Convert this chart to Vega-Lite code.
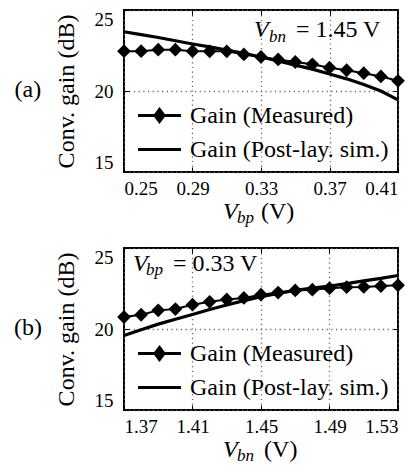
{
  "$schema": "https://vega.github.io/schema/vega-lite/v6.json",
  "background": "white",
  "padding": {"left": 12, "top": 8, "right": 0, "bottom": 0},
  "config": {
    "font": "Liberation Serif",
    "view": {"stroke": "black", "strokeWidth": 2},
    "axis": {
      "labelFont": "Liberation Serif",
      "labelFontSize": 19,
      "labelColor": "black",
      "labelFlush": true,
      "titleFont": "Liberation Serif",
      "titleFontSize": 24,
      "titleFontWeight": "normal",
      "titleColor": "black",
      "domain": false,
      "tickColor": "black",
      "tickWidth": 1,
      "tickSize": -5,
      "gridColor": "#666666",
      "gridDash": [1.2, 3.5],
      "gridWidth": 1.3
    },
    "axisX": {"labelPadding": 12},
    "axisY": {"labelPadding": 16, "titlePadding": 16},
    "legend": {
      "orient": "none",
      "legendX": 23,
      "legendY": 93,
      "padding": 0,
      "title": null,
      "labelFont": "Liberation Serif",
      "labelFontSize": 24,
      "labelColor": "black",
      "labelLimit": 400,
      "symbolSize": 460,
      "symbolOpacity": 1,
      "symbolStrokeWidth": 3,
      "labelOffset": 18,
      "rowPadding": 9
    },
    "text": {"font": "Liberation Serif", "color": "black"}
  },
  "datasets": {
    "vbpSweep": [
      {"vbp": 0.25, "series": "Gain (Measured)", "gain": 22.46},
      {"vbp": 0.26, "series": "Gain (Measured)", "gain": 22.46},
      {"vbp": 0.27, "series": "Gain (Measured)", "gain": 22.55},
      {"vbp": 0.28, "series": "Gain (Measured)", "gain": 22.55},
      {"vbp": 0.29, "series": "Gain (Measured)", "gain": 22.46},
      {"vbp": 0.30, "series": "Gain (Measured)", "gain": 22.45},
      {"vbp": 0.31, "series": "Gain (Measured)", "gain": 22.45},
      {"vbp": 0.32, "series": "Gain (Measured)", "gain": 22.26},
      {"vbp": 0.33, "series": "Gain (Measured)", "gain": 22.1},
      {"vbp": 0.34, "series": "Gain (Measured)", "gain": 21.95},
      {"vbp": 0.35, "series": "Gain (Measured)", "gain": 21.79},
      {"vbp": 0.36, "series": "Gain (Measured)", "gain": 21.65},
      {"vbp": 0.37, "series": "Gain (Measured)", "gain": 21.44},
      {"vbp": 0.38, "series": "Gain (Measured)", "gain": 21.28},
      {"vbp": 0.39, "series": "Gain (Measured)", "gain": 21.1},
      {"vbp": 0.40, "series": "Gain (Measured)", "gain": 20.9},
      {"vbp": 0.41, "series": "Gain (Measured)", "gain": 20.63},
      {"vbp": 0.25, "series": "Gain (Post-lay. sim.)", "gain": 23.66},
      {"vbp": 0.26, "series": "Gain (Post-lay. sim.)", "gain": 23.48},
      {"vbp": 0.27, "series": "Gain (Post-lay. sim.)", "gain": 23.3},
      {"vbp": 0.28, "series": "Gain (Post-lay. sim.)", "gain": 23.1},
      {"vbp": 0.29, "series": "Gain (Post-lay. sim.)", "gain": 22.9},
      {"vbp": 0.30, "series": "Gain (Post-lay. sim.)", "gain": 22.72},
      {"vbp": 0.31, "series": "Gain (Post-lay. sim.)", "gain": 22.52},
      {"vbp": 0.32, "series": "Gain (Post-lay. sim.)", "gain": 22.32},
      {"vbp": 0.33, "series": "Gain (Post-lay. sim.)", "gain": 22.1},
      {"vbp": 0.34, "series": "Gain (Post-lay. sim.)", "gain": 21.85},
      {"vbp": 0.35, "series": "Gain (Post-lay. sim.)", "gain": 21.6},
      {"vbp": 0.36, "series": "Gain (Post-lay. sim.)", "gain": 21.35},
      {"vbp": 0.37, "series": "Gain (Post-lay. sim.)", "gain": 21.05},
      {"vbp": 0.38, "series": "Gain (Post-lay. sim.)", "gain": 20.75},
      {"vbp": 0.39, "series": "Gain (Post-lay. sim.)", "gain": 20.4},
      {"vbp": 0.40, "series": "Gain (Post-lay. sim.)", "gain": 20.0},
      {"vbp": 0.41, "series": "Gain (Post-lay. sim.)", "gain": 19.45}
    ],
    "vbnSweep": [
      {"vbn": 1.37, "series": "Gain (Measured)", "gain": 20.74},
      {"vbn": 1.38, "series": "Gain (Measured)", "gain": 20.88},
      {"vbn": 1.39, "series": "Gain (Measured)", "gain": 21.15},
      {"vbn": 1.40, "series": "Gain (Measured)", "gain": 21.23},
      {"vbn": 1.41, "series": "Gain (Measured)", "gain": 21.5},
      {"vbn": 1.42, "series": "Gain (Measured)", "gain": 21.68},
      {"vbn": 1.43, "series": "Gain (Measured)", "gain": 21.82},
      {"vbn": 1.44, "series": "Gain (Measured)", "gain": 21.92},
      {"vbn": 1.45, "series": "Gain (Measured)", "gain": 22.12},
      {"vbn": 1.46, "series": "Gain (Measured)", "gain": 22.25},
      {"vbn": 1.47, "series": "Gain (Measured)", "gain": 22.38},
      {"vbn": 1.48, "series": "Gain (Measured)", "gain": 22.43},
      {"vbn": 1.49, "series": "Gain (Measured)", "gain": 22.52},
      {"vbn": 1.50, "series": "Gain (Measured)", "gain": 22.58},
      {"vbn": 1.51, "series": "Gain (Measured)", "gain": 22.6},
      {"vbn": 1.52, "series": "Gain (Measured)", "gain": 22.65},
      {"vbn": 1.53, "series": "Gain (Measured)", "gain": 22.7},
      {"vbn": 1.37, "series": "Gain (Post-lay. sim.)", "gain": 19.6},
      {"vbn": 1.38, "series": "Gain (Post-lay. sim.)", "gain": 19.95},
      {"vbn": 1.39, "series": "Gain (Post-lay. sim.)", "gain": 20.3},
      {"vbn": 1.40, "series": "Gain (Post-lay. sim.)", "gain": 20.6},
      {"vbn": 1.41, "series": "Gain (Post-lay. sim.)", "gain": 20.9},
      {"vbn": 1.42, "series": "Gain (Post-lay. sim.)", "gain": 21.2},
      {"vbn": 1.43, "series": "Gain (Post-lay. sim.)", "gain": 21.48},
      {"vbn": 1.44, "series": "Gain (Post-lay. sim.)", "gain": 21.75},
      {"vbn": 1.45, "series": "Gain (Post-lay. sim.)", "gain": 22.0},
      {"vbn": 1.46, "series": "Gain (Post-lay. sim.)", "gain": 22.2},
      {"vbn": 1.47, "series": "Gain (Post-lay. sim.)", "gain": 22.38},
      {"vbn": 1.48, "series": "Gain (Post-lay. sim.)", "gain": 22.52},
      {"vbn": 1.49, "series": "Gain (Post-lay. sim.)", "gain": 22.65},
      {"vbn": 1.50, "series": "Gain (Post-lay. sim.)", "gain": 22.8},
      {"vbn": 1.51, "series": "Gain (Post-lay. sim.)", "gain": 22.97},
      {"vbn": 1.52, "series": "Gain (Post-lay. sim.)", "gain": 23.13},
      {"vbn": 1.53, "series": "Gain (Post-lay. sim.)", "gain": 23.3}
    ]
  },
  "spacing": 18,
  "resolve": {"scale": {"shape": "independent"}, "legend": {"shape": "independent"}},
  "vconcat": [
    {
      "width": 274,
      "height": 162,
      "data": {"name": "vbpSweep"},
      "resolve": {"axis": {"x": "independent", "y": "independent"}},
      "layer": [
        {
          "transform": [{"filter": "datum.series === 'Gain (Post-lay. sim.)'"}],
          "mark": {"type": "line", "color": "black", "strokeWidth": 3.2},
          "encoding": {
            "x": {"field": "vbp", "type": "quantitative",
                  "scale": {"domain": [0.25, 0.41], "nice": false, "zero": false},
                  "axis": {"values": [0.25, 0.29, 0.33, 0.37, 0.41], "format": ".2f", "title": null, "grid": true}},
            "y": {"field": "gain", "type": "quantitative",
                  "scale": {"domain": [15, 25], "nice": false, "zero": false},
                  "axis": {"values": [15, 20, 25], "title": "Conv. gain (dB)", "grid": true}}
          }
        },
        {
          "transform": [{"filter": "datum.series === 'Gain (Measured)'"}],
          "mark": {"type": "line", "color": "black", "strokeWidth": 2},
          "encoding": {
            "x": {"field": "vbp", "type": "quantitative", "axis": null},
            "y": {"field": "gain", "type": "quantitative", "axis": null}
          }
        },
        {
          "transform": [{"filter": "datum.series === 'Gain (Measured)'"}],
          "mark": {"type": "point", "shape": "diamond", "filled": true, "color": "black", "size": 190, "opacity": 1},
          "encoding": {
            "x": {"field": "vbp", "type": "quantitative", "axis": null},
            "y": {"field": "gain", "type": "quantitative", "axis": null}
          }
        },
        {
          "transform": [{"filter": "datum.gain > 100"}],
          "mark": {"type": "point", "filled": true, "fill": "black", "stroke": "black", "strokeWidth": 3, "size": 460, "opacity": 1},
          "encoding": {
            "x": {"field": "vbp", "type": "quantitative", "axis": null},
            "y": {"field": "gain", "type": "quantitative", "axis": null},
            "shape": {
              "field": "series", "type": "nominal",
              "scale": {
                "domain": ["Gain (Measured)", "Gain (Post-lay. sim.)"],
                "range": ["M-2,0H2M0,-0.56L0.42,0L0,0.56L-0.42,0Z", "M-2,0H2"]
              },
              "legend": {"symbolOpacity": 1, "symbolStrokeWidth": 3}
            }
          }
        },
        {
          "mark": {"type": "point", "opacity": 0},
          "encoding": {
            "x": {"field": "vbp", "type": "quantitative",
                  "axis": {"orient": "top", "values": [0.25, 0.29, 0.33, 0.37, 0.41], "labels": false, "title": null, "grid": false}},
            "y": {"field": "gain", "type": "quantitative",
                  "axis": {"orient": "right", "values": [15, 20, 25], "labels": false, "title": null, "grid": false}}
          }
        },
        {
          "data": {"values": [{}]},
          "mark": {"type": "text", "text": "(a)", "fontSize": 24, "align": "center", "baseline": "middle"},
          "encoding": {"x": {"datum": 0.1939, "type": "quantitative", "axis": null}, "y": {"datum": 20.06, "type": "quantitative", "axis": null}}
        },
        {
          "data": {"values": [{}]},
          "mark": {"type": "text", "text": "V", "fontSize": 24, "fontStyle": "italic", "align": "left", "baseline": "alphabetic"},
          "encoding": {"x": {"datum": 0.3259, "type": "quantitative", "axis": null}, "y": {"datum": 23.33, "type": "quantitative", "axis": null}}
        },
        {
          "data": {"values": [{}]},
          "mark": {"type": "text", "text": "bn", "fontSize": 17, "fontStyle": "italic", "align": "left", "baseline": "alphabetic"},
          "encoding": {"x": {"datum": 0.3347, "type": "quantitative", "axis": null}, "y": {"datum": 23.04, "type": "quantitative", "axis": null}}
        },
        {
          "data": {"values": [{}]},
          "mark": {"type": "text", "text": "= 1.45 V", "fontSize": 24, "align": "left", "baseline": "alphabetic"},
          "encoding": {"x": {"datum": 0.3504, "type": "quantitative", "axis": null}, "y": {"datum": 23.33, "type": "quantitative", "axis": null}}
        },
        {
          "data": {"values": [{}]},
          "mark": {"type": "text", "text": "V", "fontSize": 24, "fontStyle": "italic", "align": "left", "baseline": "alphabetic"},
          "encoding": {"x": {"datum": 0.3078, "type": "quantitative", "axis": null}, "y": {"datum": 12.1, "type": "quantitative", "axis": null}}
        },
        {
          "data": {"values": [{}]},
          "mark": {"type": "text", "text": "bp", "fontSize": 17, "fontStyle": "italic", "align": "left", "baseline": "alphabetic"},
          "encoding": {"x": {"datum": 0.316, "type": "quantitative", "axis": null}, "y": {"datum": 11.85, "type": "quantitative", "axis": null}}
        },
        {
          "data": {"values": [{}]},
          "mark": {"type": "text", "text": "(V)", "fontSize": 24, "align": "left", "baseline": "alphabetic"},
          "encoding": {"x": {"datum": 0.33, "type": "quantitative", "axis": null}, "y": {"datum": 12.1, "type": "quantitative", "axis": null}}
        }
      ]
    },
    {
      "width": 274,
      "height": 162,
      "data": {"name": "vbnSweep"},
      "resolve": {"axis": {"x": "independent", "y": "independent"}},
      "layer": [
        {
          "transform": [{"filter": "datum.series === 'Gain (Post-lay. sim.)'"}],
          "mark": {"type": "line", "color": "black", "strokeWidth": 3.2},
          "encoding": {
            "x": {"field": "vbn", "type": "quantitative",
                  "scale": {"domain": [1.37, 1.53], "nice": false, "zero": false},
                  "axis": {"values": [1.37, 1.41, 1.45, 1.49, 1.53], "format": ".2f", "title": null, "grid": true}},
            "y": {"field": "gain", "type": "quantitative",
                  "scale": {"domain": [15, 25], "nice": false, "zero": false},
                  "axis": {"values": [15, 20, 25], "title": "Conv. gain (dB)", "grid": true}}
          }
        },
        {
          "transform": [{"filter": "datum.series === 'Gain (Measured)'"}],
          "mark": {"type": "line", "color": "black", "strokeWidth": 2},
          "encoding": {
            "x": {"field": "vbn", "type": "quantitative", "axis": null},
            "y": {"field": "gain", "type": "quantitative", "axis": null}
          }
        },
        {
          "transform": [{"filter": "datum.series === 'Gain (Measured)'"}],
          "mark": {"type": "point", "shape": "diamond", "filled": true, "color": "black", "size": 190, "opacity": 1},
          "encoding": {
            "x": {"field": "vbn", "type": "quantitative", "axis": null},
            "y": {"field": "gain", "type": "quantitative", "axis": null}
          }
        },
        {
          "transform": [{"filter": "datum.gain > 100"}],
          "mark": {"type": "point", "filled": true, "fill": "black", "stroke": "black", "strokeWidth": 3, "size": 460, "opacity": 1},
          "encoding": {
            "x": {"field": "vbn", "type": "quantitative", "axis": null},
            "y": {"field": "gain", "type": "quantitative", "axis": null},
            "shape": {
              "field": "series", "type": "nominal",
              "scale": {
                "domain": ["Gain (Measured)", "Gain (Post-lay. sim.)"],
                "range": ["M-2,0H2M0,-0.56L0.42,0L0,0.56L-0.42,0Z", "M-2,0H2"]
              },
              "legend": {"symbolOpacity": 1, "symbolStrokeWidth": 3}
            }
          }
        },
        {
          "mark": {"type": "point", "opacity": 0},
          "encoding": {
            "x": {"field": "vbn", "type": "quantitative",
                  "axis": {"orient": "top", "values": [1.37, 1.41, 1.45, 1.49, 1.53], "labels": false, "title": null, "grid": false}},
            "y": {"field": "gain", "type": "quantitative",
                  "axis": {"orient": "right", "values": [15, 20, 25], "labels": false, "title": null, "grid": false}}
          }
        },
        {
          "data": {"values": [{}]},
          "mark": {"type": "text", "text": "(b)", "fontSize": 24, "align": "center", "baseline": "middle"},
          "encoding": {"x": {"datum": 1.3139, "type": "quantitative", "axis": null}, "y": {"datum": 20.06, "type": "quantitative", "axis": null}}
        },
        {
          "data": {"values": [{}]},
          "mark": {"type": "text", "text": "V", "fontSize": 24, "fontStyle": "italic", "align": "left", "baseline": "alphabetic"},
          "encoding": {"x": {"datum": 1.3753, "type": "quantitative", "axis": null}, "y": {"datum": 23.58, "type": "quantitative", "axis": null}}
        },
        {
          "data": {"values": [{}]},
          "mark": {"type": "text", "text": "bp", "fontSize": 17, "fontStyle": "italic", "align": "left", "baseline": "alphabetic"},
          "encoding": {"x": {"datum": 1.3828, "type": "quantitative", "axis": null}, "y": {"datum": 23.33, "type": "quantitative", "axis": null}}
        },
        {
          "data": {"values": [{}]},
          "mark": {"type": "text", "text": "= 0.33 V", "fontSize": 24, "align": "left", "baseline": "alphabetic"},
          "encoding": {"x": {"datum": 1.3986, "type": "quantitative", "axis": null}, "y": {"datum": 23.58, "type": "quantitative", "axis": null}}
        },
        {
          "data": {"values": [{}]},
          "mark": {"type": "text", "text": "V", "fontSize": 24, "fontStyle": "italic", "align": "left", "baseline": "alphabetic"},
          "encoding": {"x": {"datum": 1.4278, "type": "quantitative", "axis": null}, "y": {"datum": 12.1, "type": "quantitative", "axis": null}}
        },
        {
          "data": {"values": [{}]},
          "mark": {"type": "text", "text": "bn", "fontSize": 17, "fontStyle": "italic", "align": "left", "baseline": "alphabetic"},
          "encoding": {"x": {"datum": 1.436, "type": "quantitative", "axis": null}, "y": {"datum": 11.85, "type": "quantitative", "axis": null}}
        },
        {
          "data": {"values": [{}]},
          "mark": {"type": "text", "text": "(V)", "fontSize": 24, "align": "left", "baseline": "alphabetic"},
          "encoding": {"x": {"datum": 1.4518, "type": "quantitative", "axis": null}, "y": {"datum": 12.1, "type": "quantitative", "axis": null}}
        }
      ]
    }
  ]
}
